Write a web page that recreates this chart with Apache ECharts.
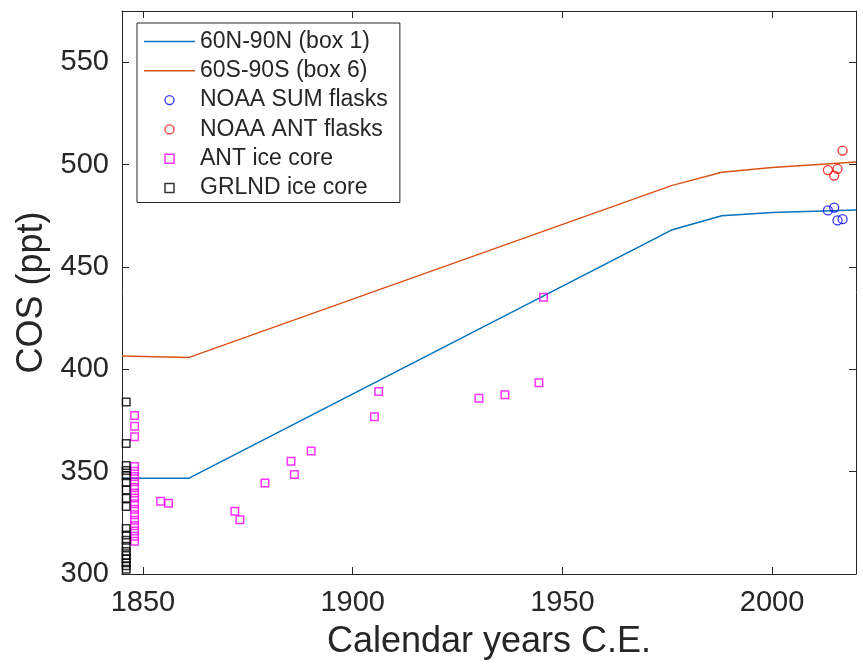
<!DOCTYPE html>
<html>
<head>
<meta charset="utf-8">
<script src="https://cdn.jsdelivr.net/npm/echarts@6/dist/echarts.min.js"></script>
<style>
html,body{margin:0;padding:0;background:#fff;}
#chart{width:863px;height:664px;}
</style>
</head>
<body>
<div id="chart"></div>
<script>
// ---- data ----
var box1Line = [[1845, 346.8], [1861, 346.8], [1976, 468.0], [1988, 475.0], [2000, 476.6], [2020, 477.8]];
var box6Line = [[1845, 406.5], [1861, 405.8], [1976, 489.7], [1988, 496.2], [2000, 498.6], [2020, 501.2]];
var noaaSum = [[2013.3, 477.6], [2014.8, 479.0], [2015.6, 472.7], [2016.8, 473.3]];
var noaaAnt = [[2013.3, 497.3], [2014.8, 494.6], [2015.6, 497.9], [2016.8, 506.8]];
var antIceYears = [1848, 1848, 1848, 1848, 1848, 1848, 1848, 1848, 1848, 1848, 1848, 1848, 1848, 1848, 1848, 1848, 1848, 1848,
                   1854.2, 1856.1, 1871.9, 1873.1, 1879.1, 1885.3, 1886.1, 1890.1, 1905.2, 1906.2, 1930.1, 1936.3, 1944.4, 1945.5];
var antIceValues = [377.4, 372.2, 367.1, 352.5, 350.2, 347.6, 345.0, 342.3, 339.6, 337.1, 334.3, 331.6, 329.0, 326.2, 323.6, 321.0, 318.4, 316.0,
                    335.5, 334.6, 330.7, 326.5, 344.5, 355.1, 348.6, 360.1, 376.8, 389.1, 385.8, 387.5, 393.4, 435.2];
var grlndIceYear = 1846;
var grlndIceValues = [384.0, 363.8, 353.0, 350.5, 348.0, 344.8, 341.0, 337.0, 333.0, 322.2, 319.0, 316.5, 313.5, 311.0, 309.0, 307.5, 305.5, 304.0, 302.3];
var xTicks = [1850, 1900, 1950, 2000];
var yTicks = [300, 350, 400, 450, 500, 550];
var seriesNames = ['60N-90N (box 1)', '60S-90S (box 6)', 'NOAA SUM flasks', 'NOAA ANT flasks', 'ANT ice core', 'GRLND ice core'];

// ---- build ----
var antIce = antIceYears.map(function (y, i) { return [y, antIceValues[i]]; });
var grlndIce = grlndIceValues.map(function (v) { return [grlndIceYear, v]; });

var TXT = '#262626';
var FONT = 'Liberation Sans';
var hollow = 'rgba(0,0,0,0)';
var squarePath = 'path://M0,0L10,0L10,10L0,10Z';
var linePath = 'path://M0,0L51,0L51,1.5L0,1.5Z';
var plain = function (v) { return String(v); };

var chart = echarts.init(document.getElementById('chart'), null, {renderer: 'canvas'});

function boxAxis(pos, ticks, isX) {
  return {
    type: 'value', position: pos, min: isX ? 1845 : 300, max: isX ? 2020 : 575,
    axisLine: {show: true, onZero: false, lineStyle: {color: TXT, width: 1}},
    axisTick: {show: true, inside: true, length: 7, lineStyle: {color: TXT, width: 1}, customValues: ticks},
    axisLabel: {show: false, customValues: ticks},
    splitLine: {show: false}
  };
}

var xMain = boxAxis('bottom', xTicks, true);
xMain.axisLabel = {show: true, customValues: xTicks, formatter: plain, color: TXT, fontFamily: FONT, fontSize: 29, margin: 14};
xMain.name = 'Calendar years C.E.';
xMain.nameLocation = 'middle';
xMain.nameGap = 50;
xMain.nameTextStyle = {color: TXT, fontFamily: FONT, fontSize: 36};

var yMain = boxAxis('left', yTicks, false);
yMain.axisLabel = {show: true, customValues: yTicks, formatter: plain, color: TXT, fontFamily: FONT, fontSize: 29, margin: 13};
yMain.name = 'COS (ppt)';
yMain.nameLocation = 'middle';
yMain.nameGap = 62;
yMain.nameTextStyle = {color: TXT, fontFamily: FONT, fontSize: 36};

var option = {
  animation: false,
  backgroundColor: '#fff',
  grid: {left: 122, right: 7, top: 11, bottom: 90, outerBoundsMode: 'none', containLabel: false},
  xAxis: [xMain, boxAxis('top', xTicks, true)],
  yAxis: [yMain, boxAxis('right', yTicks, false)],
  legend: {
    orient: 'vertical', left: 137, top: 23,
    padding: [7, 12, 3, 7],
    itemGap: 6.3, itemWidth: 51, itemHeight: 9,
    symbolKeepAspect: true,
    backgroundColor: '#fff', borderColor: TXT, borderWidth: 1, borderRadius: 0,
    textStyle: {color: TXT, fontFamily: FONT, fontSize: 23, lineHeight: 23},
    selectedMode: false,
    data: [
      {name: seriesNames[0], icon: linePath, itemStyle: {color: '#0072BD', borderWidth: 0}},
      {name: seriesNames[1], icon: linePath, itemStyle: {color: '#D95319', borderWidth: 0}},
      {name: seriesNames[2], icon: 'circle', itemStyle: {color: hollow, borderColor: '#0000FF', borderWidth: 1.3}},
      {name: seriesNames[3], icon: 'circle', itemStyle: {color: hollow, borderColor: '#FF0000', borderWidth: 1.3}},
      {name: seriesNames[4], icon: squarePath, itemStyle: {color: hollow, borderColor: '#FF00FF', borderWidth: 1.5}},
      {name: seriesNames[5], icon: squarePath, itemStyle: {color: hollow, borderColor: '#000000', borderWidth: 1.5}}
    ]
  },
  series: [
    {name: seriesNames[0], type: 'line', data: box1Line, symbol: 'none', showSymbol: false, smooth: false,
     lineStyle: {color: '#0072BD', width: 1.5}, itemStyle: {color: '#0072BD'}, z: 2},
    {name: seriesNames[1], type: 'line', data: box6Line, symbol: 'none', showSymbol: false, smooth: false,
     lineStyle: {color: '#D95319', width: 1.5}, itemStyle: {color: '#D95319'}, z: 2},
    {name: seriesNames[2], type: 'scatter', data: noaaSum, symbol: 'circle', symbolSize: 9,
     itemStyle: {color: hollow, borderColor: '#0000FF', borderWidth: 1.3}, z: 3},
    {name: seriesNames[3], type: 'scatter', data: noaaAnt, symbol: 'circle', symbolSize: 9,
     itemStyle: {color: hollow, borderColor: '#FF0000', borderWidth: 1.3}, z: 3},
    {name: seriesNames[4], type: 'scatter', data: antIce, symbol: 'rect', symbolSize: 7.5,
     itemStyle: {color: hollow, borderColor: '#FF00FF', borderWidth: 1.5}, z: 3},
    {name: seriesNames[5], type: 'scatter', data: grlndIce, symbol: 'rect', symbolSize: 7.5,
     itemStyle: {color: hollow, borderColor: '#000000', borderWidth: 1.5}, z: 3}
  ]
};
chart.setOption(option);
</script>
</body>
</html>
